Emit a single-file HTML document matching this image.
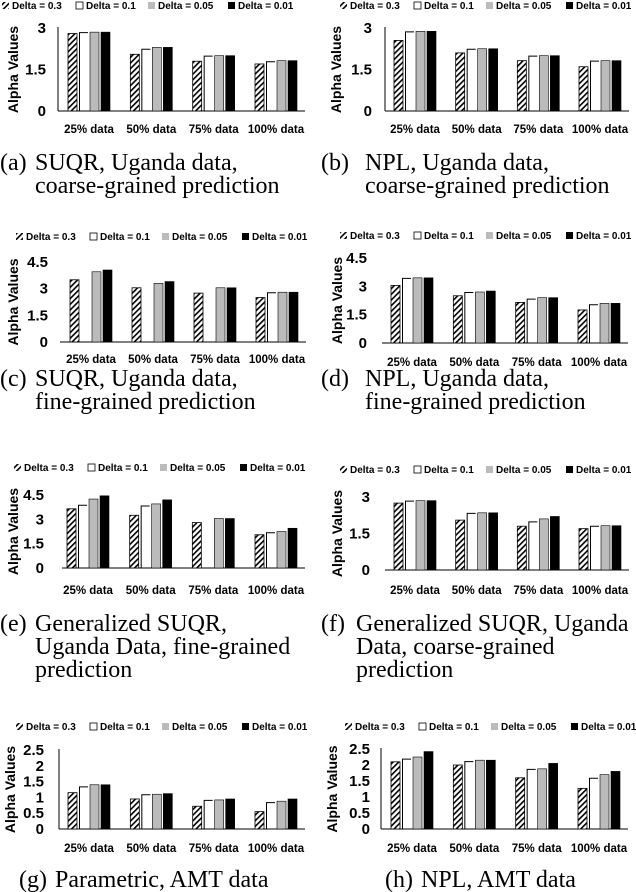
<!DOCTYPE html>
<html><head><meta charset="utf-8">
<style>
html,body{margin:0;padding:0;background:#fff;}
svg{display:block;}
.lg{font-family:"Liberation Sans",sans-serif;font-weight:bold;font-size:10px;}
.tk{font-family:"Liberation Sans",sans-serif;font-weight:bold;font-size:15px;}
.ct{font-family:"Liberation Sans",sans-serif;font-weight:bold;font-size:11.5px;}
.yt{font-family:"Liberation Sans",sans-serif;font-weight:bold;font-size:14px;}
.cap{font-family:"Liberation Serif",serif;font-size:24px;}
</style></head>
<body>
<svg id="fig" width="636" height="892" viewBox="0 0 636 892" xmlns="http://www.w3.org/2000/svg">
<defs>
<pattern id="hatch" patternUnits="userSpaceOnUse" width="4" height="4" patternTransform="rotate(45)">
<rect width="4" height="4" fill="#fff"/><rect width="1.6" height="4" fill="#000"/>
</pattern>
</defs>
</svg>
<script>
const categories = ["25% data","50% data","75% data","100% data"];
const seriesNames = ["Delta = 0.3","Delta = 0.1","Delta = 0.05","Delta = 0.01"];
const ticksA = [0,1.5,3];
const ticks45 = [0,1.5,3,4.5];
const ticks25 = [0,0.5,1,1.5,2,2.5];
const tickLabelsA = ["0","1.5","3"];
const tickLabels45 = ["0","1.5","3","4.5"];
const tickLabels25 = ["0","0.5","1","1.5","2","2.5"];

const aH = [2.8,2.05,1.8,1.7], aW = [2.85,2.25,2.0,1.8], aG = [2.85,2.3,2.0,1.82], aB = [2.85,2.3,2.0,1.82];
const bH = [2.55,2.1,1.82,1.6], bW = [2.88,2.25,2.0,1.82], bG = [2.88,2.25,2.0,1.82], bB = [2.88,2.25,2.0,1.82];
const cH = [3.5,3.05,2.75,2.5], cW = [0,0,0,2.8], cG = [3.95,3.3,3.05,2.8], cB = [4.05,3.4,3.05,2.8];
const dH = [3.05,2.5,2.15,1.75], dW = [3.45,2.7,2.35,2.05], dG = [3.45,2.7,2.4,2.1], dB = [3.45,2.75,2.4,2.1];
const eH = [3.65,3.25,2.8,2.05], eW = [3.9,3.85,0,2.2], eG = [4.25,3.95,3.05,2.25], eB = [4.45,4.2,3.05,2.45];
const fH = [2.75,2.05,1.8,1.7], fW = [2.85,2.35,2.0,1.82], fG = [2.85,2.35,2.1,1.82], fB = [2.85,2.35,2.2,1.82];
const gH = [1.15,0.95,0.72,0.55], gW = [1.35,1.1,0.92,0.85], gG = [1.4,1.1,0.92,0.88], gB = [1.4,1.12,0.95,0.95];
const hH = [2.1,2.0,1.6,1.27], hW = [2.2,2.12,1.88,1.6], hG = [2.25,2.15,1.88,1.7], hB = [2.42,2.15,2.05,1.8];

const NS="http://www.w3.org/2000/svg";
const svg=document.getElementById('fig');
function mk(tag,attrs,parent,text){const e=document.createElementNS(NS,tag);for(const k in attrs)e.setAttribute(k,attrs[k]);if(text!==undefined)e.textContent=text;(parent||svg).appendChild(e);return e;}

function panel(p){
  const g=mk('g',{});
  
  
  const maxV=p.ticks[p.ticks.length-1];
  const yS=v=>p.y0-(v/maxV)*(p.y0-p.yTop);
  const pitch=(p.bx1-p.bx0-42)/3;
  const xS=(ci,si)=>p.bx0+ci*pitch+si*11;
  const lg=mk('g',{},g);
  
  
  const fills=['url(#hatch)','#fff','#bbb','#000'];
  const lx=[p.lx, p.lx+74, p.lx+146, p.lx+226];
  seriesNames.forEach((n,i)=>{
    const sw=mk('rect',{x:lx[i],y:p.ly-7,width:7,height:7,fill:fills[i],stroke:i==1?'#000':'none','stroke-width':0.8},lg);
    
    
    const t=mk('text',{x:lx[i]+10,y:p.ly,class:'lg'},lg,n);
    
    
  });
  const yc=(p.yTop+p.y0)/2;
  const yt=mk('text',{x:0,y:0,class:'yt','text-anchor':'middle',transform:`translate(${p.ytx},${yc}) rotate(-90)`},g,'Alpha Values');
  
  
  p.ticks.forEach((v,i)=>{
    const t=mk('text',{x:p.tkx,y:yS(v)+5,class:'tk','text-anchor':'end'},g,p.tickLabels[i]);
    
    
  });
  if(p.axis){
    const a=mk('line',{x1:p.ax,y1:p.yTop-1,x2:p.ax,y2:p.y0,stroke:'#000','stroke-width':1},g);
    
    
  }
  const bl=mk('line',{x1:p.ax,y1:p.y0,x2:p.bx1+8,y2:p.y0,stroke:'#000','stroke-width':1},g);
  
  
  const ser=[p.H,p.W,p.G,p.B];
  ser.forEach((arr,si)=>{
    arr.forEach((v,ci)=>{
      if(v<=0)return;
      const x=xS(ci,si),y=yS(v),h=p.y0-y;
      if(si==1){
        const r=mk('path',{d:`M${x+0.5},${p.y0} L${x+0.5},${y+0.5} L${x+9},${y+0.5}`,fill:'none',stroke:'#000','stroke-width':1},g);
        
        
      } else {
        const r=mk('rect',{x:x,y:y,width:9,height:h,fill:fills[si],stroke:'#000','stroke-width':si==0?0.8:0.6},g);
        
        
      }
    });
  });
  categories.forEach((c,ci)=>{
    const t=mk('text',{x:xS(ci,0)+21,y:p.cy,class:'ct','text-anchor':'middle'},g,c);
    
    
  });
  const cg=mk('g',{},g);
  
  
  mk('text',{x:p.capx,y:p.capy,class:'cap'},cg,'('+p.id+')');
  p.cap.forEach((line,i)=>{
    mk('text',{x:p.capx+p.capInd,y:p.capy+i*23,class:'cap'},cg,line);
  });
}

panel({id:'a',H:aH,W:aW,G:aG,B:aB,ticks:ticksA,tickLabels:tickLabelsA,yTop:28,y0:111,bx0:68,bx1:297,ax:58,axis:true,tkx:46,ytx:18,lx:2,ly:9,cy:133,capx:0,capInd:35,capy:170,cap:['SUQR, Uganda data,','coarse-grained prediction']});
panel({id:'b',H:bH,W:bW,G:bG,B:bB,ticks:ticksA,tickLabels:tickLabelsA,yTop:28,y0:111,bx0:394,bx1:621,ax:385,axis:true,tkx:372,ytx:341,lx:340,ly:9,cy:133,capx:321,capInd:44,capy:170,cap:['NPL, Uganda data,','coarse-grained prediction']});
panel({id:'c',H:cH,W:cW,G:cG,B:cB,ticks:ticks45,tickLabels:tickLabels45,yTop:262,y0:342,bx0:70,bx1:298,ax:60,axis:false,tkx:48,ytx:18,lx:16,ly:240,cy:363,capx:0,capInd:35,capy:386,cap:['SUQR, Uganda data,','fine-grained prediction']});
panel({id:'d',H:dH,W:dW,G:dG,B:dB,ticks:ticks45,tickLabels:tickLabels45,yTop:258,y0:343,bx0:391,bx1:620,ax:382,axis:false,tkx:367,ytx:342,lx:340,ly:239,cy:366,capx:321,capInd:44,capy:386,cap:['NPL, Uganda data,','fine-grained prediction']});
panel({id:'e',H:eH,W:eW,G:eG,B:eB,ticks:ticks45,tickLabels:tickLabels45,yTop:495,y0:568,bx0:67,bx1:297,ax:62,axis:false,tkx:44,ytx:18,lx:14,ly:471,cy:594,capx:0,capInd:35,capy:631,cap:['Generalized SUQR,','Uganda Data, fine-grained','prediction']});
panel({id:'f',H:fH,W:fW,G:fG,B:fB,ticks:ticksA,tickLabels:tickLabelsA,yTop:497,y0:570,bx0:394,bx1:621,ax:385,axis:false,tkx:370,ytx:342,lx:340,ly:473,cy:594,capx:321,capInd:35,capy:631,cap:['Generalized SUQR, Uganda','Data, coarse-grained','prediction']});
panel({id:'g',H:gH,W:gW,G:gG,B:gB,ticks:ticks25,tickLabels:tickLabels25,yTop:750,y0:829,bx0:68,bx1:297,ax:59,axis:true,tkx:44,ytx:15,lx:16,ly:730,cy:852,capx:19,capInd:36,capy:887,cap:['Parametric, AMT data']});
panel({id:'h',H:hH,W:hW,G:hG,B:hB,ticks:ticks25,tickLabels:tickLabels25,yTop:749,y0:829,bx0:391,bx1:620,ax:381,axis:true,tkx:370,ytx:337,lx:345,ly:730,cy:852,capx:385,capInd:36,capy:887,cap:['NPL, AMT data']});
</script>
</body></html>
